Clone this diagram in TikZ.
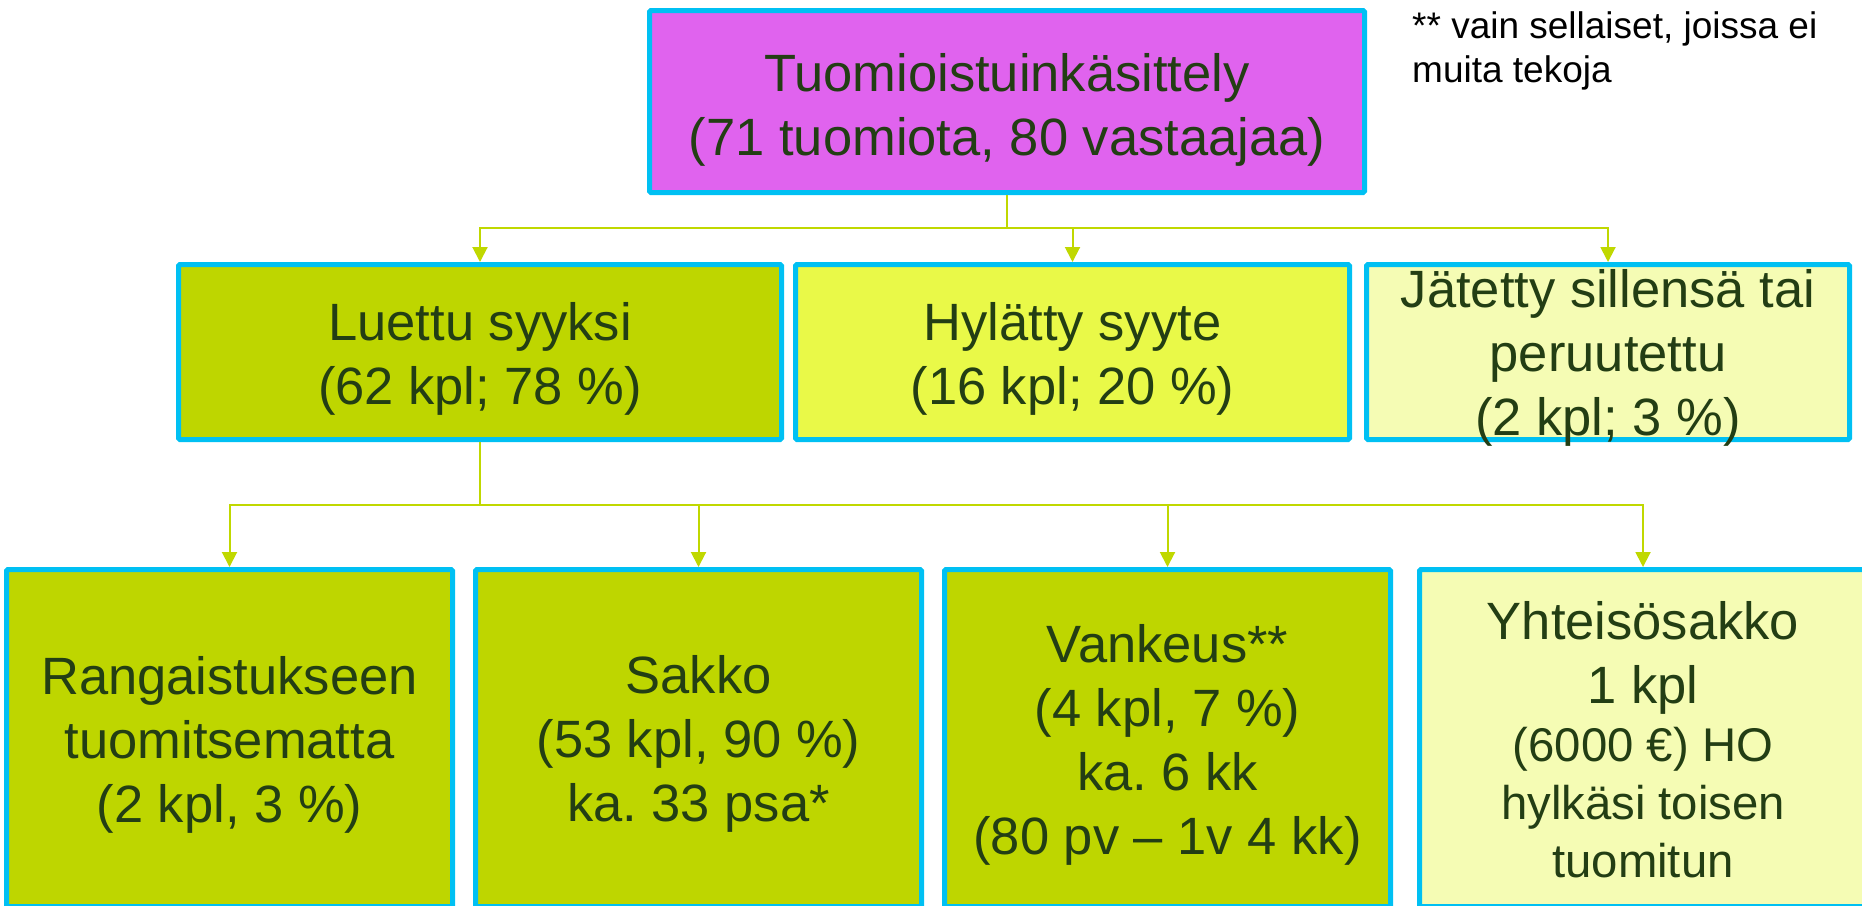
\documentclass[tikz,border=0pt]{standalone}
\usepackage{fontspec}
\setmainfont{Liberation Sans}
\usetikzlibrary{arrows.meta}
\frenchspacing
\definecolor{boxline}{RGB}{0,192,243}
\definecolor{topfill}{RGB}{224,99,238}
\definecolor{limefill}{RGB}{190,214,0}
\definecolor{yellowfill}{RGB}{233,249,72}
\definecolor{palefill}{RGB}{245,252,180}
\definecolor{connline}{RGB}{192,216,0}
\definecolor{txtcol}{RGB}{35,62,20}
\begin{document}
\begin{tikzpicture}[x=1pt,y=-1pt,
  box/.style={draw=boxline, line width=5pt, rounded corners=1.5pt, inner sep=0pt},
  txt/.style={text=txtcol, align=center, inner sep=0pt, font=\frenchspacing\fontsize{52.5}{64}\selectfont},
  conn/.style={draw=connline, line width=2pt, -{Triangle[length=15pt,width=15pt]}},
  note/.style={text=black, align=left, inner sep=0pt, anchor=north west, font=\fontsize{37}{44}\selectfont}
]
\fill[white] (0,0) rectangle (1862,905);
\useasboundingbox (0,0) rectangle (1862,905);

% boxes
\node[box, fill=topfill, minimum width=715pt, minimum height=182pt] (top) at (1007,101.5) {};
\node[box, fill=limefill, minimum width=603pt, minimum height=175pt] (A) at (480,352) {};
\node[box, fill=yellowfill, minimum width=554pt, minimum height=175pt] (B) at (1072.5,352) {};
\node[box, fill=palefill, minimum width=483pt, minimum height=175pt] (C) at (1608,352) {};
\node[box, fill=limefill, minimum width=446pt, minimum height=337pt] (D) at (229.5,738) {};
\node[box, fill=limefill, minimum width=446pt, minimum height=337pt] (E) at (698.5,738) {};
\node[box, fill=limefill, minimum width=446pt, minimum height=337pt] (F) at (1167.5,738) {};
\node[box, fill=palefill, minimum width=447pt, minimum height=337pt] (G) at (1643,738) {};

% texts
\node[txt] (ttop) at ([yshift=-8pt]top.center) {Tuomioistuinkäsittely\\(71 tuomiota, 80 vastaajaa)};
\node[txt] (tA) at ([yshift=-6.5pt]A.center) {Luettu syyksi\\(62 kpl; 78 \%)};
\node[txt] (tB) at ([yshift=-6.5pt]B.center) {Hylätty syyte\\(16 kpl; 20 \%)};
\node[txt] (tC) at ([yshift=-5.5pt]C.center) {Jätetty sillensä tai\\peruutettu\\(2 kpl; 3 \%)};
\node[txt] (tD) at ([yshift=-7pt]D.center) {Rangaistukseen\\tuomitsematta\\(2 kpl, 3 \%)};
\node[txt] (tE) at ([yshift=-5.5pt]E.center) {Sakko\\(53 kpl, 90 \%)\\ka. 33 psa*};
\node[txt] (tF) at ([yshift=-6.5pt]F.center) {Vankeus**\\(4 kpl, 7 \%)\\ka. 6 kk\\(80 pv – 1v 4 kk)};
\node[txt, font=\frenchspacing\fontsize{52.5}{58}\selectfont] (tG) at ([yshift=-1.7pt]G.center) {Yhteisösakko\\[6pt]1 kpl\\{\fontsize{47.3}{58}\selectfont (6000 €) HO}\\{\fontsize{47.3}{58}\selectfont hylkäsi toisen}\\{\fontsize{47.3}{58}\selectfont tuomitun}};

\node[note] (fn) at (1412,11.5) {** vain sellaiset, joissa ei\\muita tekoja};

% connectors
\coordinate (bus1) at (1007,228);
\coordinate (bus2) at (480,505);
\draw[conn] (top.south) -- (bus1) -| (A.north);
\draw[conn] (top.south) -- (bus1) -| (B.north);
\draw[conn] (top.south) -- (bus1) -| (C.north);
\draw[conn] (A.south) -- (bus2) -| (D.north);
\draw[conn] (A.south) -- (bus2) -| (E.north);
\draw[conn] (A.south) -- (bus2) -| (F.north);
\draw[conn] (A.south) -- (bus2) -| (G.north);
\end{tikzpicture}
\end{document}
